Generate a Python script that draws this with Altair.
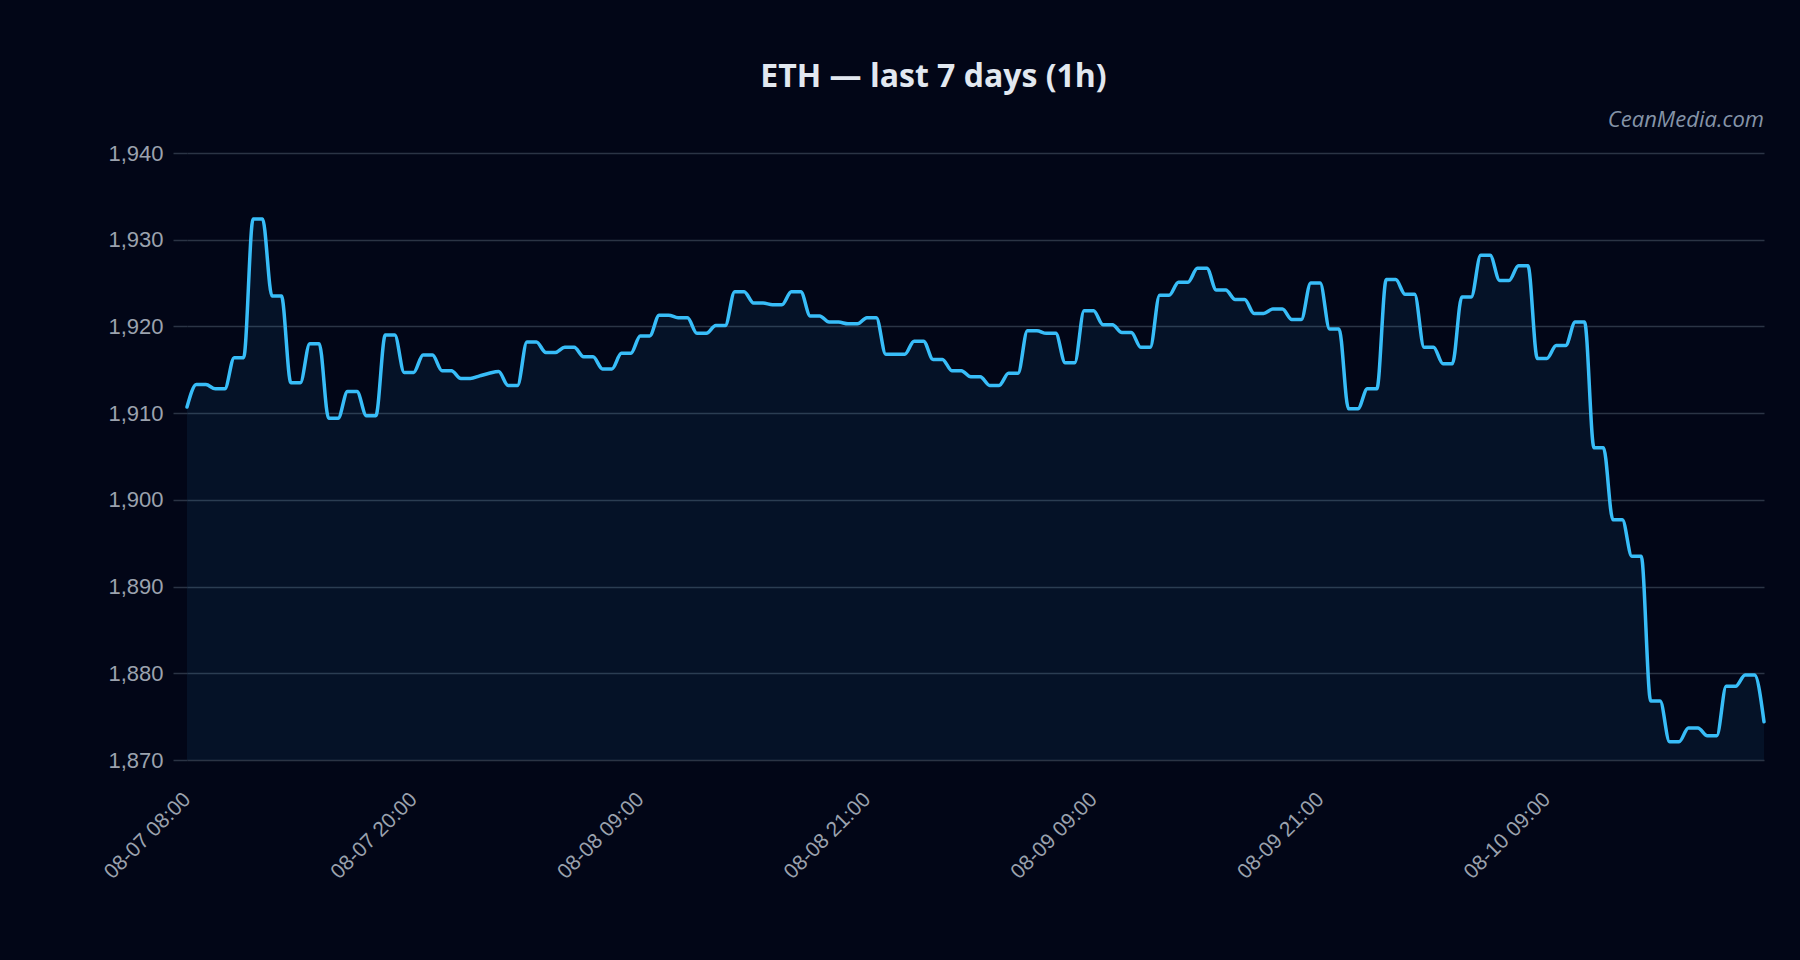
import altair as alt
import pandas as pd

# hourly price levels (each level usually appears as an open/close pair)
levels = [
    1910.7,
    1913.3, 1912.8, 1916.4, 1932.4, 1923.5, 1913.5, 1918.0, 1909.4, 1912.5, 1909.7,
    1919.0, 1914.7, 1916.7, 1914.9, 1914.0,
    1914.3, 1914.6, 1914.8,
    1913.2, 1918.2, 1917.0, 1917.6, 1916.5, 1915.1, 1916.9, 1918.9, 1921.3, 1921.0,
    1919.2, 1920.1, 1924.0, 1922.7, 1922.5, 1924.0, 1921.2, 1920.5, 1920.3, 1921.0,
    1916.8,
    1918.3, 1916.2, 1914.9, 1914.2, 1913.2, 1914.6, 1919.5, 1919.2, 1915.8, 1921.8,
    1920.2, 1919.3, 1917.6, 1923.6, 1925.1, 1926.7, 1924.2, 1923.1, 1921.5, 1922.0,
    1920.8, 1925.0, 1919.7, 1910.5, 1912.8, 1925.4, 1923.7, 1917.6, 1915.7, 1923.4,
    1928.2, 1925.3, 1927.0, 1916.3, 1917.8, 1920.5, 1906.0, 1897.7, 1893.5, 1876.8,
    1872.1, 1873.7, 1872.8, 1878.5, 1879.8,
    1874.4,
]
repeats = (
    [1]
    + [2] * 15
    + [1, 1, 1]
    + [2] * 20
    + [3]
    + [2] * 45
    + [1]
)

tick_rows = [0, 24, 48, 72, 96, 120, 144]
tick_labels = ["08-07 08:00", "08-07 20:00", "08-08 09:00", "08-08 21:00",
               "08-09 09:00", "08-09 21:00", "08-10 09:00"]
y_ticks = [1870, 1880, 1890, 1900, 1910, 1920, 1930, 1940]
title_text = "ETH \u2014 last 7 days (1h)"
watermark = "CeanMedia.com"

price = []
for v, n in zip(levels, repeats):
    price.extend([v] * n)
df = pd.DataFrame({"row": list(range(len(price))), "price": price})

W, H = 1577, 607
BG = "#020617"
LINE = "#38bdf8"
GRID = "#2b3445"
LABEL = "#9ba2ae"

# dark page background around the chart (the page margin)
try:
    import altair.utils.html as _ah

    _orig_tpl = _ah.TEMPLATES["standard"]

    class _DarkPage:
        def render(self, *args, **kwargs):
            html = _orig_tpl.render(*args, **kwargs)
            return html.replace(
                "<head>", "<head>\n<style>html, body { background: %s; }</style>" % BG, 1
            )

    _ah.TEMPLATES["standard"] = _DarkPage()
except Exception:
    pass

label_expr = "[" + ",".join("'%s'" % t for t in tick_labels) + "][round(datum.value / 24)]"

x_enc = alt.X(
    "row:Q",
    scale=alt.Scale(domain=[0, len(price) - 1], nice=False, zero=False),
    axis=alt.Axis(values=tick_rows, labelExpr=label_expr, labelAngle=315,
                  labelAlign="right", labelBaseline="middle", grid=False,
                  ticks=False, tickSize=0, domain=False, labelPadding=36,
                  labelFontSize=21, title=None),
)
y_enc = alt.Y(
    "price:Q",
    scale=alt.Scale(domain=[1870, 1940], nice=False, zero=False),
    axis=alt.Axis(values=y_ticks, format=",.0f", grid=True, ticks=True, tickSize=14,
                  labelPadding=10, domain=False, labelFontSize=22, title=None),
)

base = alt.Chart(df)
area = base.mark_area(color=LINE, opacity=0.07, interpolate="monotone").encode(
    x=x_enc, y=y_enc, y2=alt.datum(1870)
)
line = base.mark_line(color=LINE, strokeWidth=3.5, interpolate="monotone",
                      strokeJoin="round", strokeCap="round").encode(
    x=x_enc, y=y_enc
)
wm = alt.Chart(pd.DataFrame({"t": [watermark]})).mark_text(
    align="right", baseline="middle", font="Open Sans", fontStyle="italic",
    fontSize=22, color="#94a3b8", opacity=0.9
).encode(x=alt.value(W), y=alt.value(-33), text="t:N")

chart = (
    alt.layer(area, line, wm)
    .properties(
        width=W,
        height=H,
        title=alt.Title(title_text, font="Open Sans", fontSize=32, fontWeight="bold",
                        color="#e2e8f0", offset=15, anchor="middle", frame="group",
                        dx=-42),
        padding={"left": 179, "top": 145, "right": 28, "bottom": 180},
        autosize=alt.AutoSizeParams(type="none"),
        background=BG,
    )
    .configure_view(strokeWidth=0)
    .configure_axis(
        labelFont="Liberation Sans",
        labelColor=LABEL,
        gridColor=GRID,
        gridWidth=1.5,
        tickColor=GRID,
        tickWidth=1.5,
    )
)

chart.save("out.html", embed_options={"renderer": "svg", "actions": False})
